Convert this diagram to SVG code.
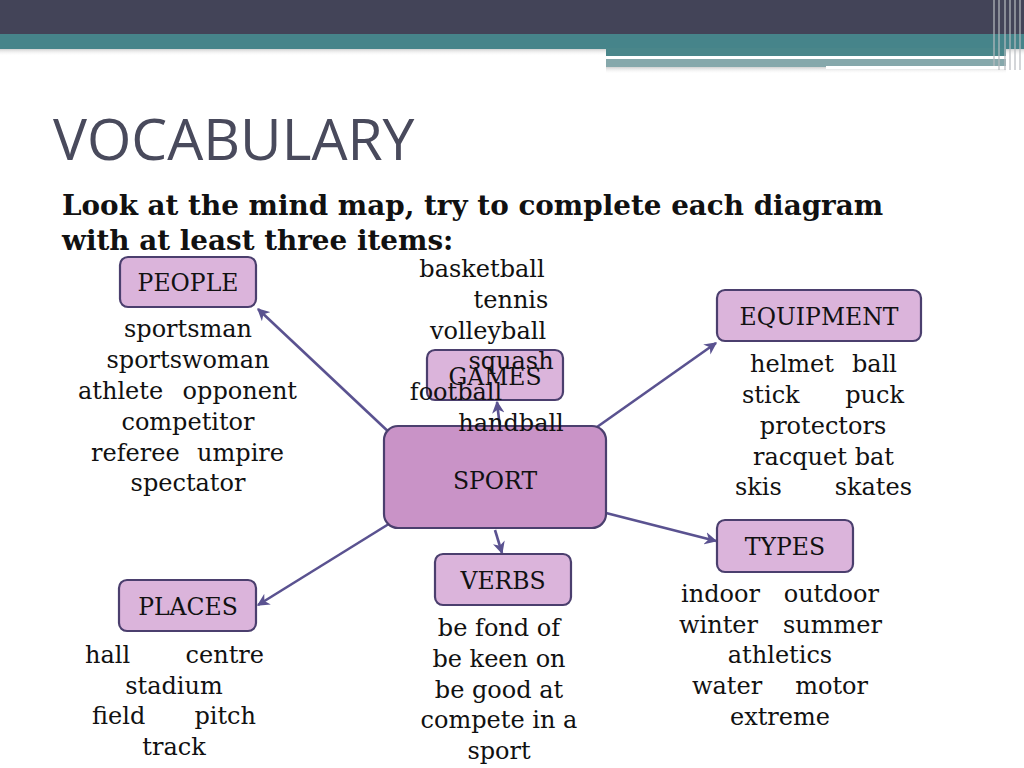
<svg xmlns="http://www.w3.org/2000/svg" width="1024" height="768" viewBox="0 0 1024 768">
<defs>
<style>
.node rect{fill:#dbb4db;stroke:#4b3f6e;stroke-width:2.2}
.node.main rect{fill:#c993c7}
.lbl{font-family:"DejaVu Serif","Liberation Serif",serif;font-size:23.5px;fill:#111;text-anchor:middle}
.lst{font-family:"DejaVu Serif","Liberation Serif",serif;font-size:24px;fill:#111}
.mid{text-anchor:middle}
.conn line{stroke:#5a5290;stroke-width:2.6;marker-end:url(#ah)}
</style>
<marker id="ah" viewBox="0 0 10 10" refX="9" refY="5" markerWidth="4.8" markerHeight="4.8" orient="auto" markerUnits="strokeWidth">
<path d="M0,0 L10,5 L0,10 L3,5 z" fill="#5a5290"/>
</marker>
<linearGradient id="sh" x1="0" y1="0" x2="0" y2="1">
<stop offset="0" stop-color="#9a9a9a" stop-opacity="0.6"/>
<stop offset="1" stop-color="#ffffff" stop-opacity="0"/>
</linearGradient>
</defs>
<rect width="1024" height="768" fill="#ffffff"/>
<g id="header">
<rect x="0" y="48" width="1024" height="8" fill="url(#sh)"/>
<rect x="606" y="66" width="400" height="8" fill="url(#sh)"/>
<rect x="0" y="0" width="1024" height="35" fill="#434458"/>
<rect x="0" y="34" width="1024" height="15" fill="#46848a"/>
<rect x="606" y="48" width="400" height="8" fill="#4a868a"/>
<rect x="606" y="56" width="342" height="3" fill="#ffffff"/>
<rect x="606" y="59" width="400" height="8" fill="#86a8ab"/>
<rect x="826" y="66" width="180" height="3" fill="#ffffff"/>
<g stroke="#b8bcc0" stroke-width="1.5" opacity="0.8">
<line x1="994" y1="0" x2="994" y2="66"/>
<line x1="999" y1="0" x2="999" y2="70"/>
<line x1="1005" y1="0" x2="1005" y2="70"/>
<line x1="1010" y1="0" x2="1010" y2="70"/>
<line x1="1015" y1="0" x2="1015" y2="70"/>
<line x1="1020" y1="0" x2="1020" y2="70"/>
</g>
</g>
<text x="53" y="160" font-family="'Open Sans','Noto Sans',sans-serif" font-size="57" fill="#494a5c">VOCABULARY</text>
<text font-family="'DejaVu Serif','Liberation Serif',serif" font-size="27.8" font-weight="bold" fill="#111">
<tspan x="62" y="215">Look at the mind map, try to complete each diagram</tspan>
<tspan x="62" y="250">with at least three items:</tspan>
</text>
<g class="conn" id="connectors">
<line x1="393" y1="436" x2="258" y2="309"/>
<line x1="500" y1="428" x2="497" y2="402"/>
<line x1="597" y1="427" x2="716" y2="343"/>
<line x1="606" y1="513" x2="716" y2="541"/>
<line x1="495" y1="530" x2="502" y2="553"/>
<line x1="392" y1="522" x2="258" y2="605"/>
</g>
<g id="people" class="node">
<rect x="120" y="257" width="136" height="50" rx="8"/>
<text class="lbl" x="188" y="291">PEOPLE</text>
</g>
<g id="games" class="node">
<rect x="427" y="350" width="136" height="50" rx="8"/>
<text class="lbl" x="495" y="385">GAMES</text>
</g>
<g id="equipment" class="node">
<rect x="717" y="290" width="204" height="51" rx="8"/>
<text class="lbl" x="819" y="325">EQUIPMENT</text>
</g>
<g id="sport" class="node main">
<rect x="384" y="426" width="222" height="102" rx="14"/>
<text class="lbl" x="495" y="489" font-size="26">SPORT</text>
</g>
<g id="types" class="node">
<rect x="717" y="520" width="136" height="52" rx="8"/>
<text class="lbl" x="785" y="555">TYPES</text>
</g>
<g id="verbs" class="node">
<rect x="435" y="554" width="136" height="51" rx="8"/>
<text class="lbl" x="503" y="589">VERBS</text>
</g>
<g id="places" class="node">
<rect x="119" y="580" width="137" height="51" rx="8"/>
<text class="lbl" x="188" y="615">PLACES</text>
</g>
<g id="people-list" class="lst mid">
<text x="188" y="337">sportsman</text>
<text x="188" y="368">sportswoman</text>
<text><tspan x="78" y="399" text-anchor="start">athlete</tspan><tspan x="297" y="399" text-anchor="end">opponent</tspan></text>
<text x="188" y="430">competitor</text>
<text><tspan x="91" y="461" text-anchor="start">referee</tspan><tspan x="284" y="461" text-anchor="end">umpire</tspan></text>
<text x="188" y="491">spectator</text>
</g>
<g id="games-list" class="lst mid">
<text x="482" y="277">basketball</text>
<text x="511" y="308">tennis</text>
<text x="488" y="339">volleyball</text>
<text x="511" y="369">squash</text>
<text x="456" y="400">football</text>
<text x="511" y="431">handball</text>
</g>
<g id="equipment-list" class="lst mid">
<text><tspan x="750" y="372" text-anchor="start">helmet</tspan><tspan x="897" y="372" text-anchor="end">ball</tspan></text>
<text><tspan x="742" y="403" text-anchor="start">stick</tspan><tspan x="904" y="403" text-anchor="end">puck</tspan></text>
<text x="823" y="434">protectors</text>
<text><tspan x="753" y="465" text-anchor="start">racquet</tspan><tspan x="894" y="465" text-anchor="end">bat</tspan></text>
<text><tspan x="735" y="495" text-anchor="start">skis</tspan><tspan x="912" y="495" text-anchor="end">skates</tspan></text>
</g>
<g id="types-list" class="lst mid">
<text><tspan x="681" y="602" text-anchor="start">indoor</tspan><tspan x="879" y="602" text-anchor="end">outdoor</tspan></text>
<text><tspan x="679" y="633" text-anchor="start">winter</tspan><tspan x="882" y="633" text-anchor="end">summer</tspan></text>
<text x="780" y="663">athletics</text>
<text><tspan x="692" y="694" text-anchor="start">water</tspan><tspan x="868" y="694" text-anchor="end">motor</tspan></text>
<text x="780" y="725">extreme</text>
</g>
<g id="places-list" class="lst mid">
<text><tspan x="85" y="663" text-anchor="start">hall</tspan><tspan x="264" y="663" text-anchor="end">centre</tspan></text>
<text x="174" y="694">stadium</text>
<text><tspan x="92" y="724" text-anchor="start">field</tspan><tspan x="256" y="724" text-anchor="end">pitch</tspan></text>
<text x="174" y="755">track</text>
</g>
<g id="verbs-list" class="lst mid">
<text x="499" y="636">be fond of</text>
<text x="499" y="667">be keen on</text>
<text x="499" y="698">be good at</text>
<text x="499" y="728">compete in a</text>
<text x="499" y="759">sport</text>
</g>
</svg>
